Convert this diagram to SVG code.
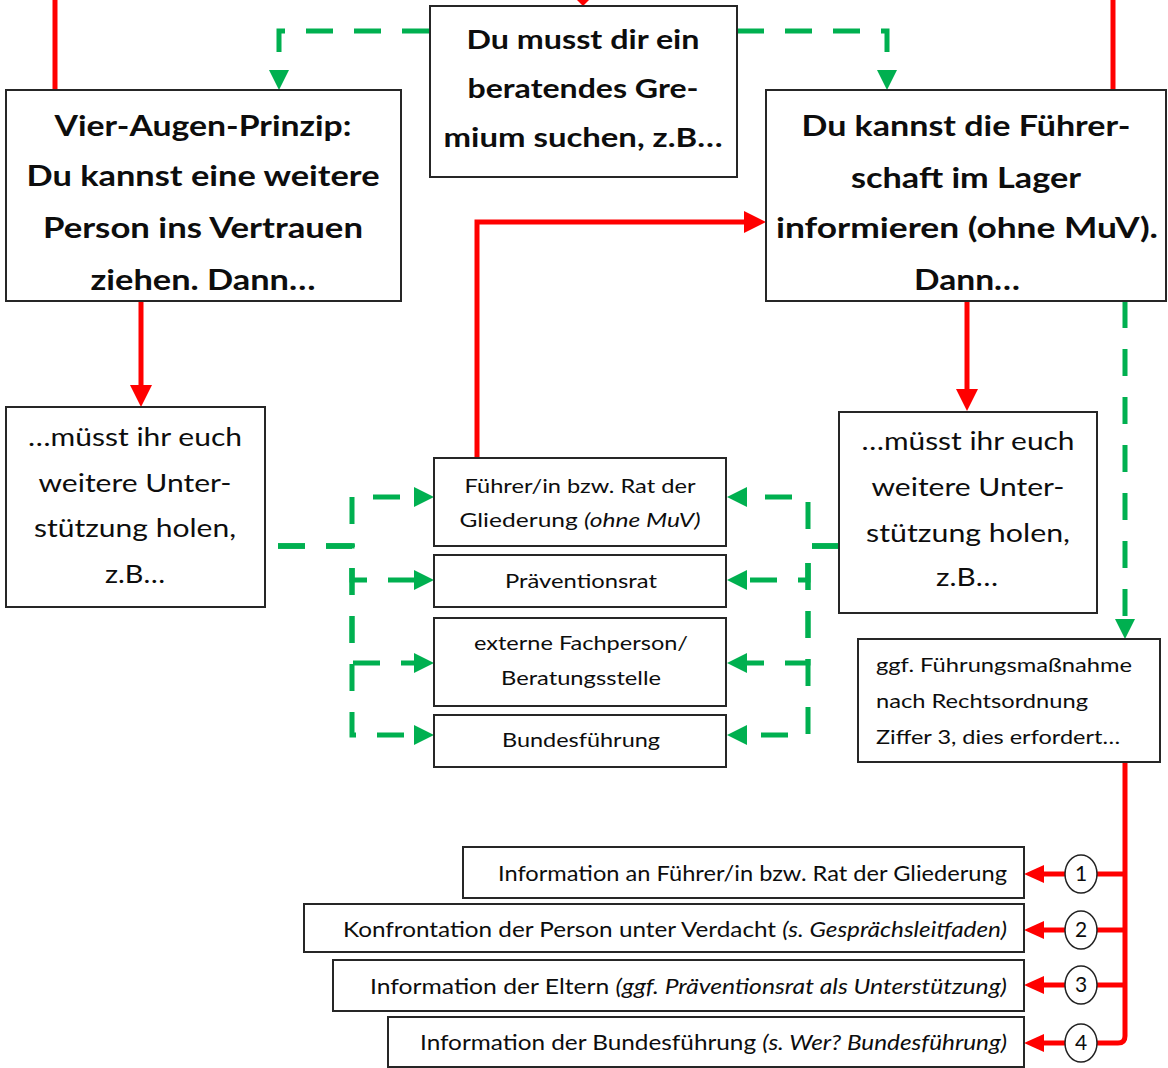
<svg xmlns="http://www.w3.org/2000/svg" width="1168" height="1068" viewBox="0 0 1168 1068">
<style>
.box{fill:#fff;stroke:#262626;stroke-width:2}
.b{font-family:Lato,"Noto Sans",sans-serif;font-weight:700;fill:#0d0d0d}
.r{font-family:Lato,"Noto Sans",sans-serif;font-weight:400;fill:#0d0d0d}
.i{font-style:italic}
.red{stroke:#ff0000;fill:none;stroke-width:5}
.grn{stroke:#00b050;fill:none;stroke-width:5;stroke-dasharray:27 21}
.circ{fill:#fff;stroke:#222;stroke-width:1.5}
</style>
<defs>
<marker id="ar" markerUnits="userSpaceOnUse" viewBox="0 0 22 22" markerWidth="22" markerHeight="22" refX="0" refY="11" orient="auto"><path d="M0,0 L22,11 L0,22z" fill="#ff0000"/></marker>
<marker id="ars" markerUnits="userSpaceOnUse" viewBox="0 0 20 18" markerWidth="20" markerHeight="18" refX="0" refY="9" orient="auto"><path d="M0,0 L20,9 L0,18z" fill="#ff0000"/></marker>
<marker id="ag" markerUnits="userSpaceOnUse" viewBox="0 0 20 20" markerWidth="20" markerHeight="20" refX="0" refY="10" orient="auto"><path d="M0,0 L20,10 L0,20z" fill="#00b050"/></marker>
</defs>

<g id="connectors">
<path class="red" d="M55,0 V90"/>
<path class="red" d="M1113,0 V90"/>
<polygon points="577,0 589,0 583,6" fill="#ff0000"/>
<path class="grn" d="M429,31 H279 V70" marker-end="url(#ag)"/>
<path class="grn" d="M737,31 H887 V70" marker-end="url(#ag)"/>
<path class="red" stroke-width="4.5" d="M141,302 V385" marker-end="url(#ar)"/>
<path class="red" stroke-width="4.5" d="M967,301 V389" marker-end="url(#ar)"/>
<path class="grn" d="M1125,301 V619" marker-end="url(#ag)"/>
<path class="red" d="M477,458 V222 H744" marker-end="url(#ar)"/>
<path class="grn" d="M278,546 H352 V497 H414" marker-end="url(#ag)"/>
<path class="grn" d="M278,546 H352 V580 H414" marker-end="url(#ag)"/>
<path class="grn" d="M278,546 H352 V663 H414" marker-end="url(#ag)"/>
<path class="grn" d="M278,546 H352 V735 H414" marker-end="url(#ag)"/>
<path class="grn" d="M839,546 H808 V497 H747" marker-end="url(#ag)"/>
<path class="grn" d="M839,546 H808 V580 H747" marker-end="url(#ag)"/>
<path class="grn" d="M839,546 H808 V663 H747" marker-end="url(#ag)"/>
<path class="grn" d="M839,546 H808 V735 H747" marker-end="url(#ag)"/>
<path class="red" d="M1125,762 V1036 Q1125,1043 1118,1043 H1097"/>
<path class="red" d="M1125,874 H1097"/>
<path class="red" d="M1125,930 H1097"/>
<path class="red" d="M1125,985 H1097"/>
<path class="red" d="M1065,874 H1044" marker-end="url(#ars)"/>
<path class="red" d="M1065,930 H1044" marker-end="url(#ars)"/>
<path class="red" d="M1065,985 H1044" marker-end="url(#ars)"/>
<path class="red" d="M1065,1043 H1044" marker-end="url(#ars)"/>
</g>

<g id="node-vier-augen">
<rect class="box" x="6" y="90" width="395" height="211"/>
<text class="b" font-size="28" text-anchor="middle" x="203" y="136" textLength="297" lengthAdjust="spacingAndGlyphs">Vier-Augen-Prinzip:</text>
<text class="b" font-size="28" text-anchor="middle" x="203" y="186" textLength="353" lengthAdjust="spacingAndGlyphs">Du kannst eine weitere</text>
<text class="b" font-size="28" text-anchor="middle" x="203" y="238" textLength="320" lengthAdjust="spacingAndGlyphs">Person ins Vertrauen</text>
<text class="b" font-size="28" text-anchor="middle" x="203" y="290" textLength="225" lengthAdjust="spacingAndGlyphs">ziehen. Dann…</text>
</g>

<g id="node-gremium">
<rect class="box" x="430" y="6" width="307" height="171"/>
<text class="b" font-size="26" text-anchor="middle" x="583" y="49" textLength="233" lengthAdjust="spacingAndGlyphs">Du musst dir ein</text>
<text class="b" font-size="26" text-anchor="middle" x="583" y="98" textLength="231" lengthAdjust="spacingAndGlyphs">beratendes Gre-</text>
<text class="b" font-size="26" text-anchor="middle" x="583" y="147" textLength="279" lengthAdjust="spacingAndGlyphs">mium suchen, z.B…</text>
</g>

<g id="node-fuehrerschaft">
<rect class="box" x="766" y="90" width="400" height="211"/>
<text class="b" font-size="29" text-anchor="middle" x="966" y="136" textLength="329" lengthAdjust="spacingAndGlyphs">Du kannst die Führer-</text>
<text class="b" font-size="29" text-anchor="middle" x="966" y="188" textLength="230" lengthAdjust="spacingAndGlyphs">schaft im Lager</text>
<text class="b" font-size="29" text-anchor="middle" x="967" y="238" textLength="382" lengthAdjust="spacingAndGlyphs">informieren (ohne MuV).</text>
<text class="b" font-size="29" text-anchor="middle" x="967" y="290" textLength="106" lengthAdjust="spacingAndGlyphs">Dann…</text>
</g>

<g id="node-unterstuetzung-links">
<rect class="box" x="6" y="407" width="259" height="200"/>
<text class="r" font-size="25" text-anchor="middle" x="135" y="446" textLength="214" lengthAdjust="spacingAndGlyphs">…müsst ihr euch</text>
<text class="r" font-size="25" text-anchor="middle" x="135" y="492" textLength="193" lengthAdjust="spacingAndGlyphs">weitere Unter-</text>
<text class="r" font-size="25" text-anchor="middle" x="135" y="537" textLength="202" lengthAdjust="spacingAndGlyphs">stützung holen,</text>
<text class="r" font-size="25" text-anchor="middle" x="135" y="583" textLength="60" lengthAdjust="spacingAndGlyphs">z.B…</text>
</g>

<g id="node-unterstuetzung-rechts">
<rect class="box" x="839" y="412" width="258" height="201"/>
<text class="r" font-size="25" text-anchor="middle" x="968" y="450" textLength="213" lengthAdjust="spacingAndGlyphs">…müsst ihr euch</text>
<text class="r" font-size="25" text-anchor="middle" x="968" y="496" textLength="193" lengthAdjust="spacingAndGlyphs">weitere Unter-</text>
<text class="r" font-size="25" text-anchor="middle" x="968" y="542" textLength="204" lengthAdjust="spacingAndGlyphs">stützung holen,</text>
<text class="r" font-size="25" text-anchor="middle" x="967" y="586" textLength="62" lengthAdjust="spacingAndGlyphs">z.B…</text>
</g>

<g id="node-fuehrer-rat">
<rect class="box" x="434" y="458" width="292" height="88"/>
<text class="r" font-size="20" text-anchor="middle" x="580" y="493" textLength="231" lengthAdjust="spacingAndGlyphs">Führer/in bzw. Rat der</text>
<text class="r" font-size="20" text-anchor="middle" x="580" y="527" textLength="241" lengthAdjust="spacingAndGlyphs">Gliederung <tspan class="i">(ohne MuV)</tspan></text>
</g>

<g id="node-praeventionsrat">
<rect class="box" x="434" y="555" width="292" height="52"/>
<text class="r" font-size="20" text-anchor="middle" x="581" y="588" textLength="152" lengthAdjust="spacingAndGlyphs">Präventionsrat</text>
</g>

<g id="node-fachperson">
<rect class="box" x="434" y="618" width="292" height="88"/>
<text class="r" font-size="20" text-anchor="middle" x="581" y="650" textLength="214" lengthAdjust="spacingAndGlyphs">externe Fachperson/</text>
<text class="r" font-size="20" text-anchor="middle" x="581" y="685" textLength="160" lengthAdjust="spacingAndGlyphs">Beratungsstelle</text>
</g>

<g id="node-bundesfuehrung">
<rect class="box" x="434" y="715" width="292" height="52"/>
<text class="r" font-size="20" text-anchor="middle" x="581" y="747" textLength="158" lengthAdjust="spacingAndGlyphs">Bundesführung</text>
</g>

<g id="node-fuehrungsmassnahme">
<rect class="box" x="858" y="639" width="302" height="123"/>
<text class="r" font-size="20" x="876" y="672" textLength="256" lengthAdjust="spacingAndGlyphs">ggf. Führungsmaßnahme</text>
<text class="r" font-size="20" x="876" y="708" textLength="212" lengthAdjust="spacingAndGlyphs">nach Rechtsordnung</text>
<text class="r" font-size="20" x="876" y="744" textLength="244" lengthAdjust="spacingAndGlyphs">Ziffer 3, dies erfordert…</text>
</g>

<g id="node-info-fuehrer">
<rect class="box" x="463" y="847" width="561" height="51"/>
<text class="r" font-size="21" text-anchor="end" x="1007" y="881" textLength="509" lengthAdjust="spacingAndGlyphs">Information an Führer/in bzw. Rat der Gliederung</text>
</g>
<g id="node-konfrontation">
<rect class="box" x="304" y="904" width="720" height="48"/>
<text class="r" font-size="21" text-anchor="end" x="1007" y="937" textLength="664" lengthAdjust="spacingAndGlyphs">Konfrontation der Person unter Verdacht <tspan class="i">(s. Gesprächsleitfaden)</tspan></text>
</g>
<g id="node-eltern">
<rect class="box" x="333" y="960" width="691" height="51"/>
<text class="r" font-size="21" text-anchor="end" x="1007" y="994" textLength="637" lengthAdjust="spacingAndGlyphs">Information der Eltern <tspan class="i">(ggf. Präventionsrat als Unterstützung)</tspan></text>
</g>
<g id="node-info-bundesfuehrung">
<rect class="box" x="388" y="1017" width="636" height="50"/>
<text class="r" font-size="21" text-anchor="end" x="1007" y="1050" textLength="587" lengthAdjust="spacingAndGlyphs">Information der Bundesführung <tspan class="i">(s. Wer? Bundesführung)</tspan></text>
</g>

<g id="node-num-1"><ellipse class="circ" cx="1081" cy="874" rx="16" ry="19"/><text class="r" font-size="21" text-anchor="middle" x="1081" y="881">1</text></g>
<g id="node-num-2"><ellipse class="circ" cx="1081" cy="930" rx="16" ry="19"/><text class="r" font-size="21" text-anchor="middle" x="1081" y="937">2</text></g>
<g id="node-num-3"><ellipse class="circ" cx="1081" cy="985" rx="16" ry="19"/><text class="r" font-size="21" text-anchor="middle" x="1081" y="992">3</text></g>
<g id="node-num-4"><ellipse class="circ" cx="1081" cy="1043" rx="16" ry="19"/><text class="r" font-size="21" text-anchor="middle" x="1081" y="1050">4</text></g>
</svg>
